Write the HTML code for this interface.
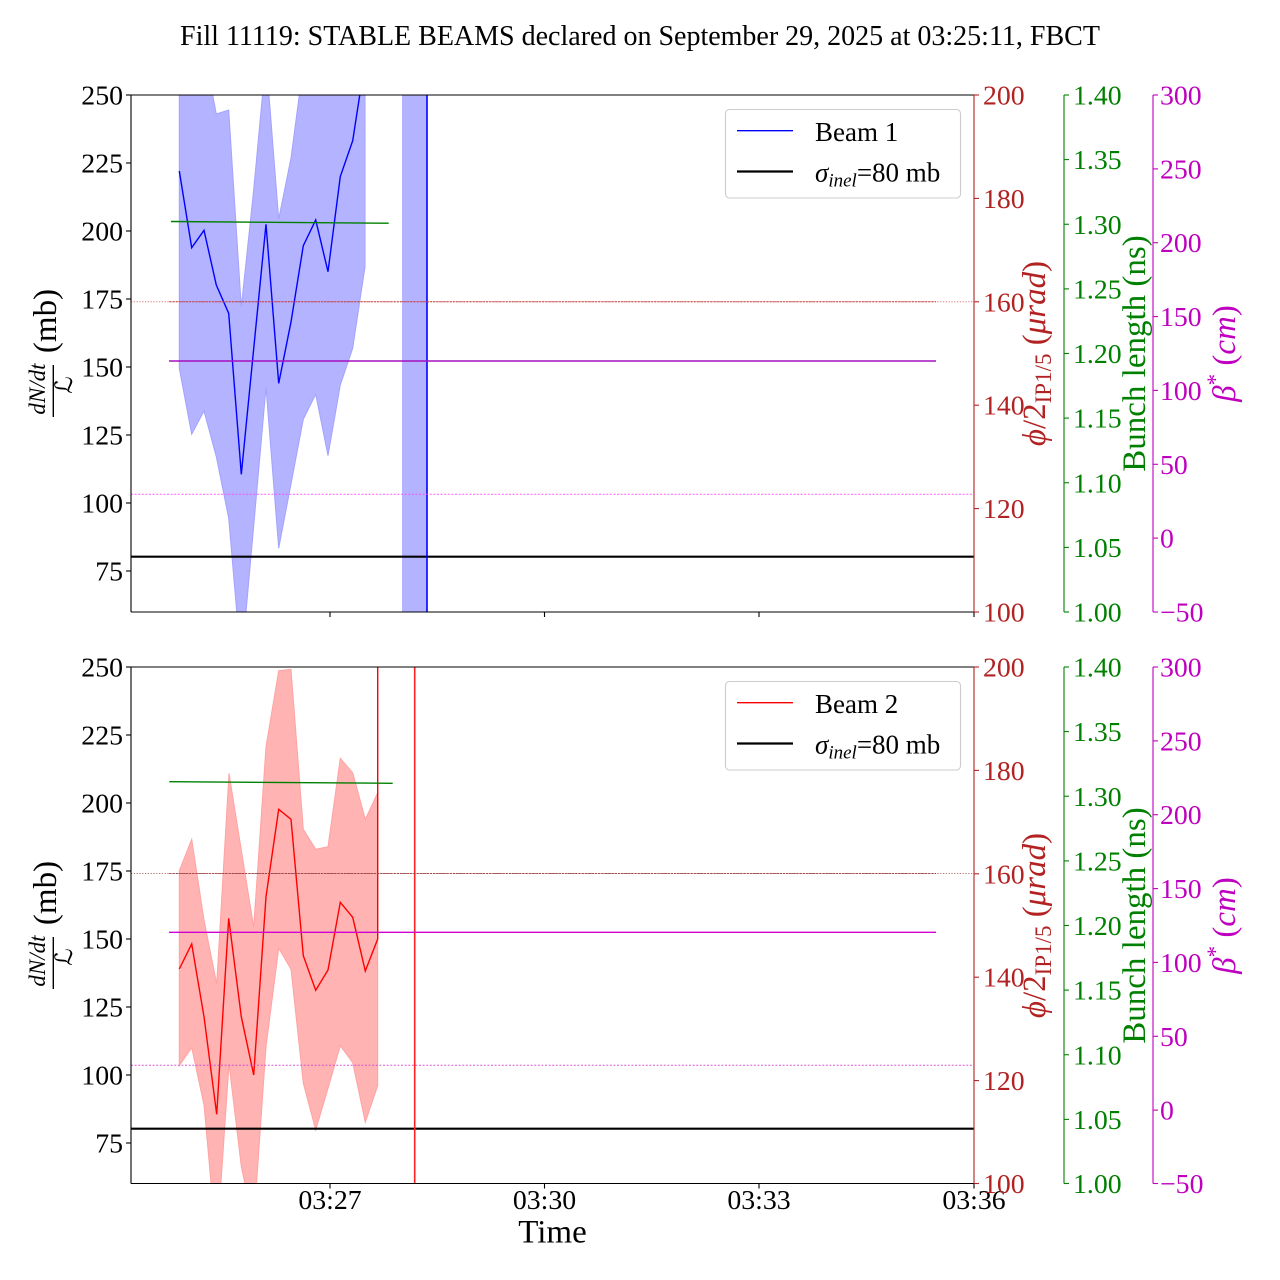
<!DOCTYPE html>
<html>
<head>
<meta charset="utf-8">
<style>
html,body{margin:0;padding:0;background:#ffffff;}
svg{display:block;}
text{font-family:"Liberation Serif","DejaVu Serif",serif;}
</style>
</head>
<body>
<svg width="1280" height="1280" viewBox="0 0 1280 1280" xmlns="http://www.w3.org/2000/svg">
<defs>
  <clipPath id="c1"><rect x="131" y="95" width="843" height="517"/></clipPath>
  <clipPath id="c2"><rect x="131" y="667" width="843" height="516.5"/></clipPath>
</defs>

<!-- Title -->
<text x="640" y="45" text-anchor="middle" font-size="28" fill="#000">Fill 11119: STABLE BEAMS declared on September 29, 2025 at 03:25:11, FBCT</text>

<!-- ================= PLOT 1 DATA ================= -->
<g clip-path="url(#c1)">
  <polygon fill="#b3b3ff" stroke="#a3a3ff" stroke-width="1"
    points="179.3,40 191.7,40 204,49 216.3,114 228.7,110 241.3,307 253.7,189.6 266,57 278.7,219 291,158 303.3,64.6 315.7,40 328,40 340.3,40 352.7,40 365,40 365,266.7 352.7,348.3 340.3,385 328,455.7 315.7,394.3 303.3,419.3 291,484 278.7,548.3 266,387.7 253.7,526 241.3,665 228.7,518.3 216.3,456.7 204,411 191.7,434.3 179.3,368.3"/>
  <rect x="402" y="90" width="25" height="530" fill="#b3b3ff"/>
  <line x1="131" y1="556.7" x2="974" y2="556.7" stroke="#000" stroke-width="2.2"/>
  <polyline fill="none" stroke="#0000ff" stroke-width="1.4" stroke-linejoin="miter"
    points="179.3,171 191.7,247.7 204,230.3 216.3,285 228.7,313.3 241.3,474.3 266,224.3 278.7,383.3 291,322 303.3,245.7 315.7,220 328,271.7 340.3,176.5 352.7,140.7 365,61 380,-600"/>
  <line x1="427" y1="90" x2="427" y2="620" stroke="#0000ff" stroke-width="1.6"/>
  <line x1="131" y1="301.8" x2="974" y2="301.8" stroke="#d04848" stroke-width="1" stroke-dasharray="1.2,1.6" opacity="0.75"/>
  <line x1="169" y1="301.8" x2="936" y2="301.8" stroke="#c43a3a" stroke-width="1" stroke-dasharray="2.5,0.8" opacity="0.85"/>
  <line x1="131" y1="494.3" x2="974" y2="494.3" stroke="#ff40ff" stroke-width="1" stroke-dasharray="2,1.6" opacity="0.85"/>
  <line x1="169" y1="361" x2="936" y2="361" stroke="#a510c0" stroke-width="1.4"/>
  <line x1="171" y1="221.5" x2="388.7" y2="223.2" stroke="#008000" stroke-width="1.4"/>
</g>

<!-- ================= PLOT 2 DATA ================= -->
<g clip-path="url(#c2)">
  <polygon fill="#ffb3b3" stroke="#ffa3a3" stroke-width="1"
    points="179.3,870.7 191.7,839.3 204,920 216.7,984 229,773.3 241.3,850 253.7,927 266,746.7 278.7,670.7 291,669.3 303.3,829.3 315.7,849.3 328,846.7 340.3,758.3 352.7,772.7 365.3,819.3 377.7,792.7 377.7,1085.7 365.3,1122.3 352.7,1062.7 340.3,1045.7 328,1088.3 315.7,1130 303.3,1083.3 291,969.3 278.7,948.3 266,1046.7 253.7,1225 241.3,1166.7 229,1064 216.7,1246 204,1105 191.7,1047.7 179.3,1065.7"/>
  <line x1="131" y1="1128.7" x2="974" y2="1128.7" stroke="#000" stroke-width="2.2"/>
  <polyline fill="none" stroke="#ff0000" stroke-width="1.4"
    points="179.3,969 191.7,944 204,1016.7 216.7,1114.3 228.7,918.3 241.3,1016.7 253.7,1075 266,896.7 278.7,809.3 291,819.3 303.3,955.7 315.7,990.3 328,970 340.3,902.3 352.7,917.3 365.3,971 377.7,939 377.7,600"/>
  <line x1="414.7" y1="660" x2="414.7" y2="1190" stroke="#ff2020" stroke-width="1.6"/>
  <line x1="131" y1="873.5" x2="974" y2="873.5" stroke="#a04848" stroke-width="1" stroke-dasharray="1.2,1.6" opacity="0.8"/>
  <line x1="169" y1="873.5" x2="936" y2="873.5" stroke="#9a4040" stroke-width="1" stroke-dasharray="2.5,0.8" opacity="0.85"/>
  <line x1="131" y1="1065.3" x2="974" y2="1065.3" stroke="#d040d0" stroke-width="1" stroke-dasharray="2,1.6" opacity="0.85"/>
  <line x1="169" y1="932.3" x2="936" y2="932.3" stroke="#d000d0" stroke-width="1.4"/>
  <line x1="169.3" y1="781.7" x2="392.7" y2="783.3" stroke="#008000" stroke-width="1.4"/>
</g>

<!-- ================= PLOT 1 AXES ================= -->
<g>
  <line x1="131" y1="95" x2="974" y2="95" stroke="#000" stroke-width="1.1"/>
  <line x1="131" y1="95" x2="131" y2="612" stroke="#000" stroke-width="1.1"/>
  <line x1="131" y1="612" x2="974" y2="612" stroke="#000" stroke-width="1.1"/>
  <line x1="974" y1="95" x2="974" y2="612" stroke="#b22222" stroke-width="1.1"/>
  <line x1="1064" y1="95" x2="1064" y2="612" stroke="#008000" stroke-width="1.1"/>
  <line x1="1153" y1="95" x2="1153" y2="612" stroke="#bf00bf" stroke-width="1.1"/>
  <g stroke="#000" stroke-width="1.1">
    <line x1="330" y1="612" x2="330" y2="617"/>
    <line x1="544.5" y1="612" x2="544.5" y2="617"/>
    <line x1="759" y1="612" x2="759" y2="617"/>
    <line x1="974" y1="612" x2="974" y2="617"/>
  </g>
  <g stroke="#000" stroke-width="1.1">
    <line x1="126" y1="571" x2="131" y2="571"/><line x1="126" y1="503" x2="131" y2="503"/>
    <line x1="126" y1="435" x2="131" y2="435"/><line x1="126" y1="367" x2="131" y2="367"/>
    <line x1="126" y1="299" x2="131" y2="299"/><line x1="126" y1="231" x2="131" y2="231"/>
    <line x1="126" y1="163" x2="131" y2="163"/><line x1="126" y1="95" x2="131" y2="95"/>
  </g>
  <g font-size="27.8" fill="#000" text-anchor="end">
    <text x="123" y="580.5">75</text><text x="123" y="512.5">100</text>
    <text x="123" y="444.5">125</text><text x="123" y="376.5">150</text>
    <text x="123" y="308.5">175</text><text x="123" y="240.5">200</text>
    <text x="123" y="172.5">225</text><text x="123" y="104.5">250</text>
  </g>
  <g stroke="#b22222" stroke-width="1.1">
    <line x1="974" y1="612" x2="979" y2="612"/><line x1="974" y1="508.6" x2="979" y2="508.6"/>
    <line x1="974" y1="405.2" x2="979" y2="405.2"/><line x1="974" y1="301.8" x2="979" y2="301.8"/>
    <line x1="974" y1="198.4" x2="979" y2="198.4"/><line x1="974" y1="95" x2="979" y2="95"/>
  </g>
  <g font-size="27.8" fill="#b22222">
    <text x="983" y="621.5">100</text><text x="983" y="518.1">120</text>
    <text x="983" y="414.7">140</text><text x="983" y="311.3">160</text>
    <text x="983" y="207.9">180</text><text x="983" y="104.5">200</text>
  </g>
  <g stroke="#008000" stroke-width="1.1">
    <line x1="1064" y1="612" x2="1069" y2="612"/><line x1="1064" y1="547.4" x2="1069" y2="547.4"/>
    <line x1="1064" y1="482.75" x2="1069" y2="482.75"/><line x1="1064" y1="418.1" x2="1069" y2="418.1"/>
    <line x1="1064" y1="353.5" x2="1069" y2="353.5"/><line x1="1064" y1="288.9" x2="1069" y2="288.9"/>
    <line x1="1064" y1="224.25" x2="1069" y2="224.25"/><line x1="1064" y1="159.6" x2="1069" y2="159.6"/>
    <line x1="1064" y1="95" x2="1069" y2="95"/>
  </g>
  <g font-size="27.8" fill="#008000">
    <text x="1073" y="621.5">1.00</text><text x="1073" y="556.9">1.05</text>
    <text x="1073" y="492.25">1.10</text><text x="1073" y="427.6">1.15</text>
    <text x="1073" y="363">1.20</text><text x="1073" y="298.4">1.25</text>
    <text x="1073" y="233.75">1.30</text><text x="1073" y="169.1">1.35</text>
    <text x="1073" y="104.5">1.40</text>
  </g>
  <g stroke="#bf00bf" stroke-width="1.1">
    <line x1="1153" y1="612" x2="1158" y2="612"/><line x1="1153" y1="538.1" x2="1158" y2="538.1"/>
    <line x1="1153" y1="464.3" x2="1158" y2="464.3"/><line x1="1153" y1="390.4" x2="1158" y2="390.4"/>
    <line x1="1153" y1="316.6" x2="1158" y2="316.6"/><line x1="1153" y1="242.7" x2="1158" y2="242.7"/>
    <line x1="1153" y1="168.9" x2="1158" y2="168.9"/><line x1="1153" y1="95" x2="1158" y2="95"/>
  </g>
  <g font-size="27.8" fill="#bf00bf">
    <text x="1160" y="621.5">−50</text><text x="1160" y="547.6">0</text>
    <text x="1160" y="473.8">50</text><text x="1160" y="399.9">100</text>
    <text x="1160" y="326.1">150</text><text x="1160" y="252.2">200</text>
    <text x="1160" y="178.4">250</text><text x="1160" y="104.5">300</text>
  </g>
  <text transform="translate(45,389) rotate(-90)" text-anchor="middle" font-size="23" font-style="italic">dN/dt</text>
  <line x1="53.3" y1="365" x2="53.3" y2="417" stroke="#000" stroke-width="1.4"/>
  <text transform="translate(72,385) rotate(-90)" text-anchor="middle" font-size="24" font-family="DejaVu Sans, sans-serif">ℒ</text>
  <text transform="translate(56,321) rotate(-90)" text-anchor="middle" font-size="33">(mb)</text>
  <text transform="translate(1045,353.5) rotate(-90)" text-anchor="middle" font-size="33" fill="#b22222"><tspan font-style="italic">ϕ</tspan>/2<tspan font-size="23" dy="6">IP1/5</tspan><tspan dy="-6"> (</tspan><tspan font-style="italic">μrad</tspan>)</text>
  <text transform="translate(1145,353.5) rotate(-90)" text-anchor="middle" font-size="33" fill="#008000">Bunch length (ns)</text>
  <text transform="translate(1235,353.5) rotate(-90)" text-anchor="middle" font-size="33" fill="#bf00bf"><tspan font-style="italic">β</tspan><tspan font-size="23" dy="-12">*</tspan><tspan dy="12"> (</tspan><tspan font-style="italic">cm</tspan>)</text>
  <rect x="725.5" y="109.5" width="235" height="88.5" rx="4" ry="4" fill="#ffffff" fill-opacity="0.85" stroke="#cccccc" stroke-width="1.1"/>
  <line x1="737" y1="130.7" x2="793" y2="130.7" stroke="#0000ff" stroke-width="1.4"/>
  <text x="815" y="141" font-size="27">Beam 1</text>
  <line x1="737" y1="171.5" x2="793" y2="171.5" stroke="#000" stroke-width="2.2"/>
  <text x="815" y="181.5" font-size="27"><tspan font-style="italic">σ</tspan><tspan font-size="19" font-style="italic" dy="5">inel</tspan><tspan dy="-5">=80 mb</tspan></text>
</g>

<!-- ================= PLOT 2 AXES ================= -->
<g transform="translate(0,572)">
  <line x1="131" y1="95" x2="974" y2="95" stroke="#000" stroke-width="1.1"/>
  <line x1="131" y1="95" x2="131" y2="611.5" stroke="#000" stroke-width="1.1"/>
  <line x1="131" y1="611.5" x2="974" y2="611.5" stroke="#000" stroke-width="1.1"/>
  <line x1="974" y1="95" x2="974" y2="611.5" stroke="#b22222" stroke-width="1.1"/>
  <line x1="1064" y1="95" x2="1064" y2="611.5" stroke="#008000" stroke-width="1.1"/>
  <line x1="1153" y1="95" x2="1153" y2="611.5" stroke="#bf00bf" stroke-width="1.1"/>
  <g stroke="#000" stroke-width="1.1">
    <line x1="330" y1="611.5" x2="330" y2="616.5"/>
    <line x1="544.5" y1="611.5" x2="544.5" y2="616.5"/>
    <line x1="759" y1="611.5" x2="759" y2="616.5"/>
    <line x1="974" y1="611.5" x2="974" y2="616.5"/>
  </g>
  <g font-size="27.8" fill="#000" text-anchor="middle">
    <text x="330" y="637">03:27</text>
    <text x="544.5" y="637">03:30</text>
    <text x="759" y="637">03:33</text>
    <text x="974" y="637">03:36</text>
  </g>
  <text x="552.5" y="670.5" text-anchor="middle" font-size="33">Time</text>
  <g stroke="#000" stroke-width="1.1">
    <line x1="126" y1="571" x2="131" y2="571"/><line x1="126" y1="503" x2="131" y2="503"/>
    <line x1="126" y1="435" x2="131" y2="435"/><line x1="126" y1="367" x2="131" y2="367"/>
    <line x1="126" y1="299" x2="131" y2="299"/><line x1="126" y1="231" x2="131" y2="231"/>
    <line x1="126" y1="163" x2="131" y2="163"/><line x1="126" y1="95" x2="131" y2="95"/>
  </g>
  <g font-size="27.8" fill="#000" text-anchor="end">
    <text x="123" y="580.5">75</text><text x="123" y="512.5">100</text>
    <text x="123" y="444.5">125</text><text x="123" y="376.5">150</text>
    <text x="123" y="308.5">175</text><text x="123" y="240.5">200</text>
    <text x="123" y="172.5">225</text><text x="123" y="104.5">250</text>
  </g>
  <g stroke="#b22222" stroke-width="1.1">
    <line x1="974" y1="611.5" x2="979" y2="611.5"/><line x1="974" y1="508.6" x2="979" y2="508.6"/>
    <line x1="974" y1="405.2" x2="979" y2="405.2"/><line x1="974" y1="301.8" x2="979" y2="301.8"/>
    <line x1="974" y1="198.4" x2="979" y2="198.4"/><line x1="974" y1="95" x2="979" y2="95"/>
  </g>
  <g font-size="27.8" fill="#b22222">
    <text x="983" y="621">100</text><text x="983" y="518.1">120</text>
    <text x="983" y="414.7">140</text><text x="983" y="311.3">160</text>
    <text x="983" y="207.9">180</text><text x="983" y="104.5">200</text>
  </g>
  <g stroke="#008000" stroke-width="1.1">
    <line x1="1064" y1="611.5" x2="1069" y2="611.5"/><line x1="1064" y1="547.4" x2="1069" y2="547.4"/>
    <line x1="1064" y1="482.75" x2="1069" y2="482.75"/><line x1="1064" y1="418.1" x2="1069" y2="418.1"/>
    <line x1="1064" y1="353.5" x2="1069" y2="353.5"/><line x1="1064" y1="288.9" x2="1069" y2="288.9"/>
    <line x1="1064" y1="224.25" x2="1069" y2="224.25"/><line x1="1064" y1="159.6" x2="1069" y2="159.6"/>
    <line x1="1064" y1="95" x2="1069" y2="95"/>
  </g>
  <g font-size="27.8" fill="#008000">
    <text x="1073" y="621">1.00</text><text x="1073" y="556.9">1.05</text>
    <text x="1073" y="492.25">1.10</text><text x="1073" y="427.6">1.15</text>
    <text x="1073" y="363">1.20</text><text x="1073" y="298.4">1.25</text>
    <text x="1073" y="233.75">1.30</text><text x="1073" y="169.1">1.35</text>
    <text x="1073" y="104.5">1.40</text>
  </g>
  <g stroke="#bf00bf" stroke-width="1.1">
    <line x1="1153" y1="611.5" x2="1158" y2="611.5"/><line x1="1153" y1="538.1" x2="1158" y2="538.1"/>
    <line x1="1153" y1="464.3" x2="1158" y2="464.3"/><line x1="1153" y1="390.4" x2="1158" y2="390.4"/>
    <line x1="1153" y1="316.6" x2="1158" y2="316.6"/><line x1="1153" y1="242.7" x2="1158" y2="242.7"/>
    <line x1="1153" y1="168.9" x2="1158" y2="168.9"/><line x1="1153" y1="95" x2="1158" y2="95"/>
  </g>
  <g font-size="27.8" fill="#bf00bf">
    <text x="1160" y="621">−50</text><text x="1160" y="547.6">0</text>
    <text x="1160" y="473.8">50</text><text x="1160" y="399.9">100</text>
    <text x="1160" y="326.1">150</text><text x="1160" y="252.2">200</text>
    <text x="1160" y="178.4">250</text><text x="1160" y="104.5">300</text>
  </g>
  <text transform="translate(45,389) rotate(-90)" text-anchor="middle" font-size="23" font-style="italic">dN/dt</text>
  <line x1="53.3" y1="365" x2="53.3" y2="417" stroke="#000" stroke-width="1.4"/>
  <text transform="translate(72,385) rotate(-90)" text-anchor="middle" font-size="24" font-family="DejaVu Sans, sans-serif">ℒ</text>
  <text transform="translate(56,321) rotate(-90)" text-anchor="middle" font-size="33">(mb)</text>
  <text transform="translate(1045,353.5) rotate(-90)" text-anchor="middle" font-size="33" fill="#b22222"><tspan font-style="italic">ϕ</tspan>/2<tspan font-size="23" dy="6">IP1/5</tspan><tspan dy="-6"> (</tspan><tspan font-style="italic">μrad</tspan>)</text>
  <text transform="translate(1145,353.5) rotate(-90)" text-anchor="middle" font-size="33" fill="#008000">Bunch length (ns)</text>
  <text transform="translate(1235,353.5) rotate(-90)" text-anchor="middle" font-size="33" fill="#bf00bf"><tspan font-style="italic">β</tspan><tspan font-size="23" dy="-12">*</tspan><tspan dy="12"> (</tspan><tspan font-style="italic">cm</tspan>)</text>
  <rect x="725.5" y="109.5" width="235" height="88.5" rx="4" ry="4" fill="#ffffff" fill-opacity="0.85" stroke="#cccccc" stroke-width="1.1"/>
  <line x1="737" y1="130.7" x2="793" y2="130.7" stroke="#ff0000" stroke-width="1.4"/>
  <text x="815" y="141" font-size="27">Beam 2</text>
  <line x1="737" y1="171.5" x2="793" y2="171.5" stroke="#000" stroke-width="2.2"/>
  <text x="815" y="181.5" font-size="27"><tspan font-style="italic">σ</tspan><tspan font-size="19" font-style="italic" dy="5">inel</tspan><tspan dy="-5">=80 mb</tspan></text>
</g>
</svg>
</body>
</html>
